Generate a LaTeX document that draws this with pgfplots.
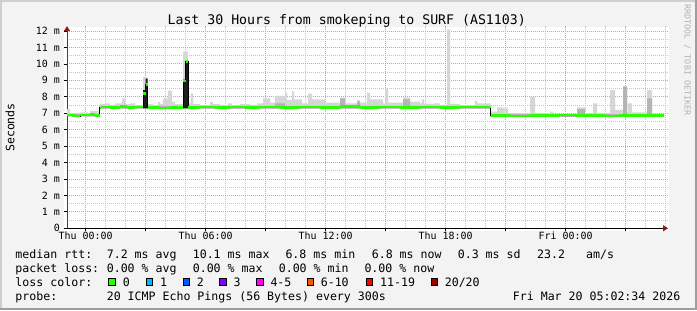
\documentclass[border=0pt]{standalone}
\usepackage{fontspec}
\setmainfont{DejaVu Sans Mono}
\usepackage{pgfplots}
\pgfplotsset{compat=1.18}
\usepgfplotslibrary{fillbetween}
\usetikzlibrary{arrows.meta}
\definecolor{bgc}{HTML}{F3F3F3}
\definecolor{shadea}{HTML}{CFCFCF}
\definecolor{shadeb}{HTML}{9E9E9E}
\definecolor{mgrid}{HTML}{E39595}
\definecolor{grd}{HTML}{C4C4C4}
\definecolor{smokeA}{HTML}{D6D6D6}
\definecolor{smokeB}{HTML}{B4B4B4}
\definecolor{smokeC}{HTML}{1E1E1E}
\definecolor{medgreen}{HTML}{26FF00}
\definecolor{arrowred}{HTML}{8B1A1A}
\definecolor{lcA}{HTML}{26FF00}
\definecolor{lcB}{HTML}{00B8FF}
\definecolor{lcC}{HTML}{0059FF}
\definecolor{lcD}{HTML}{7E00FF}
\definecolor{lcE}{HTML}{FF00FF}
\definecolor{lcF}{HTML}{FF5500}
\definecolor{lcG}{HTML}{FF0000}
\definecolor{lcH}{HTML}{A10000}
\newcommand\lf{\fontsize{11.63}{14}\selectfont}
\begin{document}
\begin{tikzpicture}
\pgfplotsset{set layers}
\begin{pgfonlayer}{axis background}
\begin{scope}[x=1bp,y=1bp]
\fill[bgc] (0,0) rectangle (697,310);
\fill[shadea] (0,308) rectangle (697,310);
\fill[shadea] (0,0) rectangle (2,310);
\fill[shadeb] (0,0) rectangle (697,2);
\fill[shadeb] (695,0) rectangle (697,310);
\fill[white] (64,79) rectangle (669,283);
\end{scope}
\end{pgfonlayer}
\begin{axis}[
  at={(67bp,81.7bp)}, anchor=south west,
  scale only axis, width=601bp, height=202.2bp,
  xmin=-0.935, xmax=29.115, ymin=0, ymax=12.3,
  axis x line=bottom, axis y line=left,
  x axis line style={black, line width=1bp, -{Triangle[length=5bp,width=6bp,color=arrowred]}},
  y axis line style={black!75, line width=1bp, -{Triangle[length=5bp,width=6bp,color=arrowred]}},
  grid=both,
  major grid style={mgrid, line width=0.9bp, dash pattern=on 1bp off 1bp},
  minor grid style={grd, line width=0.9bp, dash pattern=on 1bp off 1bp},
  xtick={0,3,...,27},
  xticklabels={Thu 00:00,,Thu 06:00,,Thu 12:00,,Thu 18:00,,Fri 00:00,},
  minor xtick={1,2,4,5,7,8,10,11,13,14,16,17,19,20,22,23,25,26,28,29},
  ytick={0,1,...,12},
  yticklabels={0,1 m,2 m,3 m,4 m,5 m,6 m,7 m,8 m,9 m,10 m,11 m,12 m},
  minor ytick={0.5,1.5,...,11.5},
  tick align=outside, major tick length=3bp, minor tick length=0pt,
  tick style={black, line width=0.8bp},
  ticklabel style={font=\fontsize{10}{12}\selectfont, inner sep=0pt},
  yticklabel style={anchor=east, xshift=-4bp},
  xticklabel style={anchor=north, yshift=-0.8bp},
]
\addplot[name path=lo, draw=none, const plot] coordinates {(-0.94,6.82) (0.69,7.3) (20.24,6.8) (28.89,6.8)};
\addplot[name path=hi, draw=none, const plot] coordinates {
(-0.94,7.25) (-0.785,7.02) (-0.285,7.05) (0.115,7.0) (0.215,7.15) (0.615,7.05) (0.69,7.55) (0.965,7.6) (1.215,7.5) (1.465,7.6) (1.815,7.9) (1.965,7.55) (2.215,7.6) (2.465,7.5) (2.865,9.2) (3.09,7.55) (3.365,7.5) (3.615,7.67) (3.715,7.55) (3.865,7.9) (4.115,8.37) (4.315,7.7) (4.465,7.55) (4.865,10.75) (5.115,7.6) (5.24,8.2) (5.365,7.55) (5.715,7.5) (6.215,7.67) (6.365,7.55) (6.715,7.5) (7.115,7.6) (7.315,7.5) (7.715,7.55) (8.215,7.5) (8.565,7.6) (8.865,7.9) (9.215,7.65) (9.465,8.05) (9.965,8.25) (10.065,7.8) (10.315,8.33) (10.415,7.85) (10.815,7.6) (11.115,8.19) (11.315,7.85) (11.965,7.65) (12.715,7.95) (12.965,7.6) (13.565,7.8) (13.715,7.65) (14.065,8.25) (14.215,7.85) (14.865,7.6) (14.965,8.5) (15.115,7.65) (15.865,7.95) (16.215,7.7) (16.715,7.6) (16.815,7.85) (16.915,7.55) (17.4,7.6) (17.7,7.5) (18.065,12.1) (18.215,7.55) (18.715,7.5) (19.465,7.75) (19.565,7.6) (20.24,7.1) (20.565,7.36) (20.865,7.3) (21.115,7.0) (22.215,8.0) (22.465,7.0) (23.215,7.1) (23.365,6.98) (24.565,7.36) (24.965,7.0) (25.365,7.6) (25.565,7.02) (26.215,8.4) (26.465,7.2) (26.865,8.65) (27.065,7.05) (27.115,7.6) (27.315,7.05) (28.065,8.4) (28.315,6.98) (28.89,6.98)};
\addplot[name path=mid, draw=none, const plot] coordinates {
(-0.94,6.95) (0.69,7.45) (9.465,7.6) (9.965,7.45) (12.715,7.9) (12.965,7.45) (13.565,7.7) (13.715,7.45) (15.865,7.85) (16.215,7.45) (20.24,6.95) (24.565,7.25) (24.965,6.95) (26.865,8.6) (27.065,6.95) (28.065,7.9) (28.315,6.95) (28.89,6.95)};
\addplot[name path=dk, draw=none, const plot] coordinates {
(-0.94,6.82) (0.69,7.3) (2.865,8.4) (2.99,9.1) (3.09,7.3) (4.865,9.05) (4.99,10.2) (5.115,7.3) (20.24,6.8) (28.89,6.8)};
\addplot[smokeA] fill between[of=hi and lo];
\addplot[smokeB] fill between[of=mid and lo];
\addplot[smokeC] fill between[of=dk and lo];
\addplot[const plot, black, line width=0.7bp] coordinates {
(-0.94,6.9) (-0.685,6.87) (-0.485,6.84) (-0.285,6.9) (0.015,6.88) (0.215,6.92) (0.465,6.86) (0.69,7.33) (0.765,7.38) (1.215,7.36) (1.715,7.4) (2.065,7.36) (2.465,7.38) (2.865,8.2) (2.99,8.75) (3.09,7.36) (3.715,7.33) (4.215,7.36) (4.865,8.96) (4.99,10.13) (5.115,7.36) (5.715,7.38) (6.465,7.35) (7.215,7.38) (7.965,7.35) (8.715,7.38) (9.715,7.35) (10.715,7.38) (11.715,7.35) (12.715,7.4) (13.715,7.36) (14.715,7.38) (15.715,7.35) (16.715,7.37) (17.715,7.36) (18.715,7.38) (19.715,7.37) (20.24,6.86) (21.215,6.84) (22.215,6.87) (22.965,6.85) (23.715,6.88) (24.465,6.85) (25.215,6.87) (25.965,6.84) (26.715,6.87) (27.465,6.85) (28.215,6.86) (28.89,6.86)};
\addplot[jump mark left, medgreen, line width=2.6bp] coordinates {
(-0.94,6.9) (-0.685,6.87) (-0.485,6.84) (-0.285,6.9) (0.015,6.88) (0.215,6.92) (0.465,6.86) (0.69,7.33) (0.765,7.38) (1.215,7.36) (1.715,7.4) (2.065,7.36) (2.465,7.38) (2.865,8.2) (2.99,8.75) (3.09,7.36) (3.715,7.33) (4.215,7.36) (4.865,8.96) (4.99,10.13) (5.115,7.36) (5.715,7.38) (6.465,7.35) (7.215,7.38) (7.965,7.35) (8.715,7.38) (9.715,7.35) (10.715,7.38) (11.715,7.35) (12.715,7.4) (13.715,7.36) (14.715,7.38) (15.715,7.35) (16.715,7.37) (17.715,7.36) (18.715,7.38) (19.715,7.37) (20.24,6.86) (21.215,6.84) (22.215,6.87) (22.965,6.85) (23.715,6.88) (24.465,6.85) (25.215,6.87) (25.965,6.84) (26.715,6.87) (27.465,6.85) (28.215,6.86) (28.89,6.86)};
\end{axis}
\begin{scope}[x=1bp,y=1bp]
\useasboundingbox (0,0) rectangle (697,310);
\node[anchor=base, inner sep=0pt, font=\fontsize{13.27}{16}\selectfont] at (346.7,286) {Last 30 Hours from smokeping to SURF (AS1103)};
\node[rotate=90, inner sep=0pt, font=\lf] at (10,182.5) {Seconds};
\node[rotate=-90, inner sep=0pt, text=black!30, font=\fontsize{8.4}{10}\selectfont] at (687.3,250) {RRDTOOL / TOBI OETIKER};
\begin{scope}[every node/.style={anchor=base west, inner sep=0pt, font=\lf}]
\node at (15.3,51.7) {median rtt:};
\node at (106.6,51.7) {7.2 ms avg};
\node at (192.6,51.7) {10.1 ms max};
\node at (285.3,51.7) {6.8 ms min};
\node at (371.6,51.7) {6.8 ms now};
\node at (457.6,51.7) {0.3 ms sd};
\node at (537,51.7) {23.2};
\node at (586,51.7) {am/s};
\node at (15.3,37.8) {packet loss:};
\node at (106.6,37.8) {0.00 \% avg};
\node at (192.6,37.8) {0.00 \% max};
\node at (278.6,37.8) {0.00 \% min};
\node at (364.3,37.8) {0.00 \% now};
\node at (15.3,24) {loss color:};
\node at (122.6,24) {0};
\node at (160,24) {1};
\node at (196.6,24) {2};
\node at (233.3,24) {3};
\node at (270.3,24) {4-5};
\node at (320.6,24) {6-10};
\node at (380,24) {11-19};
\node at (444.6,24) {20/20};
\node at (15.3,10) {probe:};
\node at (106.6,10) {20 ICMP Echo Pings (56 Bytes) every 300s};
\node[anchor=base east] at (680.5,10) {Fri Mar 20 05:02:34 2026};
\end{scope}
\foreach \bx/\bc in {108.3/lcA,145.7/lcB,182.7/lcC,219.3/lcD,256.3/lcE,306.7/lcF,365.7/lcG,430.7/lcH}{
  \filldraw[fill=\bc, draw=black, line width=0.8bp] (\bx+0.4,24.4) rectangle (\bx+7.1,31.3);
}
\end{scope}
\end{tikzpicture}
\end{document}
